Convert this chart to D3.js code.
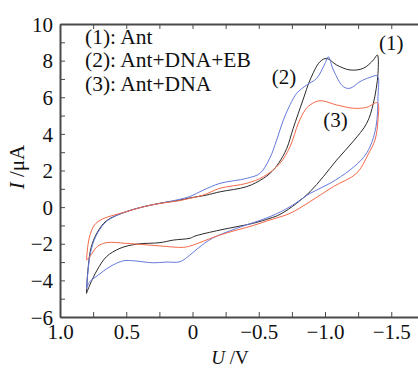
<!DOCTYPE html>
<html>
<head>
<meta charset="utf-8">
<script src="https://cdn.jsdelivr.net/npm/d3@7"></script>
<style>
  body { margin: 0; background: #fff; }
</style>
</head>
<body>
<div id="chart"></div>
<script>
// Cyclic voltammograms, [U (V), I (uA)]
var ant = [
  [0.80, -4.71], [0.79, -3.5], [0.765, -2.2], [0.72, -1.4], [0.65, -0.75], [0.5, -0.25],
  [0.37, 0.02], [0.245, 0.21], [0.1, 0.38], [0.02, 0.5], [-0.1, 0.65], [-0.21, 0.84],
  [-0.41, 1.12], [-0.535, 1.57], [-0.6, 1.95], [-0.65, 2.4], [-0.711, 3.2], [-0.76, 4.3],
  [-0.836, 5.9], [-0.887, 6.94], [-0.962, 7.94], [-1.013, 8.12], [-1.088, 7.76],
  [-1.189, 7.49], [-1.289, 7.58], [-1.365, 8.03], [-1.395, 8.31],
  [-1.40, 7.3], [-1.365, 5.67], [-1.315, 4.58], [-1.214, 3.6], [-1.088, 2.57],
  [-0.987, 1.66], [-0.887, 0.84], [-0.786, 0.21], [-0.66, -0.40], [-0.585, -0.61],
  [-0.459, -0.88], [-0.208, -1.25], [-0.019, -1.58], [0.019, -1.70], [0.145, -1.80],
  [0.245, -1.94], [0.42, -2.02], [0.547, -2.25], [0.65, -2.71], [0.72, -3.44],
  [0.775, -4.25], [0.80, -4.71]
];

var antDnaEb = [
  [0.80, -4.44], [0.79, -3.6], [0.77, -2.5], [0.73, -1.6], [0.66, -0.85], [0.6, -0.55],
  [0.5, -0.25], [0.37, 0.02], [0.245, 0.21], [0.1, 0.42], [0.02, 0.58], [-0.082, 0.93],
  [-0.208, 1.30], [-0.409, 1.57], [-0.51, 1.85], [-0.585, 2.7], [-0.635, 3.66],
  [-0.686, 4.76], [-0.737, 5.6], [-0.787, 6.22], [-0.862, 6.67], [-0.937, 7.03],
  [-1.0, 7.85], [-1.025, 8.21], [-1.063, 7.49], [-1.138, 6.58], [-1.189, 6.49],
  [-1.264, 6.85], [-1.34, 7.09], [-1.395, 7.16],
  [-1.40, 6.03], [-1.385, 4.39], [-1.34, 3.3], [-1.289, 2.7], [-1.189, 2.03],
  [-1.038, 1.30], [-0.887, 0.75], [-0.736, 0.02], [-0.585, -0.52], [-0.333, -1.16],
  [-0.15, -1.7], [-0.044, -2.23], [0.02, -2.62], [0.094, -2.98], [0.2, -3.0],
  [0.296, -3.04], [0.447, -2.93], [0.52, -2.93], [0.623, -3.25], [0.72, -3.76],
  [0.775, -4.07], [0.80, -4.44]
];

var antDna = [
  [0.80, -2.89], [0.78, -1.7], [0.74, -0.98], [0.68, -0.65], [0.6, -0.45], [0.5, -0.25],
  [0.37, 0.02], [0.245, 0.2], [0.1, 0.35], [0.02, 0.48], [-0.082, 0.66], [-0.208, 1.03],
  [-0.409, 1.30], [-0.535, 1.66], [-0.66, 2.39], [-0.736, 3.30], [-0.80, 4.6],
  [-0.85, 5.3], [-0.887, 5.58], [-0.962, 5.81], [-1.088, 5.58], [-1.214, 5.40],
  [-1.315, 5.45], [-1.395, 5.70],
  [-1.40, 4.76], [-1.377, 3.66], [-1.327, 2.9], [-1.239, 1.85], [-1.063, 1.12],
  [-0.887, 0.30], [-0.736, -0.34], [-0.585, -0.70], [-0.459, -1.0], [-0.208, -1.52],
  [-0.05, -1.95], [0.03, -2.15], [0.08, -2.2], [0.245, -2.12], [0.5, -1.98], [0.65, -1.94],
  [0.72, -2.16], [0.775, -2.71], [0.80, -2.89]
];

var seriesNames = ["(1): Ant", "(2): Ant+DNA+EB", "(3): Ant+DNA"];
var curveTags = ["(1)", "(2)", "(3)"];
var seriesColors = ["#2a2a2a", "#6479dc", "#f4694a"];

var xTicks = [1.0, 0.75, 0.5, 0.25, 0, -0.25, -0.5, -0.75, -1.0, -1.25, -1.5];
var xLabels = ["1.0", "", "0.5", "", "0", "", "\u22120.5", "", "\u22121.0", "", "\u22121.5"];
var yTicks = d3.range(-6, 11, 1);

var serif = "'Liberation Serif', 'Times New Roman', Times, serif";

// Set SVG Specs
var svgWidth = 418;
var svgHeight = 368;
var plot = { left: 60, right: 417.75, top: 24, bottom: 317 };

var svg = d3.select("#chart")
  .append("svg")
  .attr("width", svgWidth)
  .attr("height", svgHeight);

var xScale = d3.scaleLinear().domain([1.0, -1.7]).range([plot.left, plot.right]);
var yScale = d3.scaleLinear().domain([-6, 10]).range([plot.bottom, plot.top]);

// Axes, ticks pointing inwards
var bottomAxis = d3.axisBottom(xScale)
  .tickValues(xTicks)
  .tickFormat((d, i) => xLabels[i])
  .tickSizeInner(-5)
  .tickSizeOuter(0);
var topAxis = d3.axisTop(xScale)
  .tickValues(xTicks)
  .tickFormat("")
  .tickSizeInner(-5)
  .tickSizeOuter(0);
var leftAxis = d3.axisLeft(yScale)
  .tickValues(yTicks)
  .tickFormat(d => d % 2 === 0 ? String(d).replace("-", "\u2212") : "")
  .tickSizeInner(-5)
  .tickSizeOuter(0);

function styleAxis(g) {
  g.attr("font-family", null).attr("font-size", null);
  g.select(".domain").attr("stroke", "#4a4a4a").attr("stroke-width", 2);
  g.selectAll(".tick line").attr("stroke", "#4a4a4a").attr("stroke-width", 1);
  g.selectAll("text")
    .style("font-family", serif)
    .style("font-size", "21px")
    .attr("fill", "#111");
}

svg.append("g")
  .attr("transform", `translate(0, ${plot.bottom})`)
  .call(bottomAxis)
  .call(styleAxis)
  .call(g => g.selectAll("text").attr("y", 22).attr("dy", 0));

svg.append("g")
  .attr("transform", `translate(0, ${plot.top})`)
  .call(topAxis)
  .call(styleAxis);

svg.append("g")
  .attr("transform", `translate(${plot.left}, 0)`)
  .call(leftAxis)
  .call(styleAxis)
  .call(g => g.selectAll("text").attr("x", -7).attr("dy", "0.34em"));

// Curves
var line = d3.line()
  .x(d => xScale(d[0]))
  .y(d => yScale(d[1]))
  .curve(d3.curveCatmullRom.alpha(0.5));

[ant, antDnaEb, antDna].forEach(function(data, k) {
  svg.append("path")
    .datum(data)
    .attr("d", line)
    .attr("fill", "none")
    .attr("stroke", seriesColors[k])
    .attr("stroke-width", 1);
});

// Legend text
svg.selectAll(".legend")
  .data(seriesNames)
  .enter()
  .append("text")
  .attr("class", "legend")
  .attr("x", 85)
  .attr("y", (d, i) => 43.5 + i * 23.7)
  .style("font-family", serif)
  .style("font-size", "21.5px")
  .attr("fill", "#111")
  .text(d => d);

// Curve tags
var tagPos = [[-1.5, 8.6], [-0.69, 6.7], [-1.08, 4.4]];
svg.selectAll(".tag")
  .data(curveTags)
  .enter()
  .append("text")
  .attr("class", "tag")
  .attr("x", (d, i) => xScale(tagPos[i][0]))
  .attr("y", (d, i) => yScale(tagPos[i][1]))
  .attr("text-anchor", "middle")
  .style("font-family", serif)
  .style("font-size", "21px")
  .attr("fill", "#111")
  .text(d => d);

// Axis titles
var yTitle = svg.append("text")
  .attr("transform", "translate(24, 167) rotate(-90)")
  .attr("text-anchor", "middle")
  .style("font-family", serif)
  .style("font-size", "21px")
  .attr("fill", "#111");
yTitle.append("tspan").attr("font-style", "italic").text("I");
yTitle.append("tspan").text(" /\u03bcA");

var xTitle = svg.append("text")
  .attr("x", 230)
  .attr("y", 364)
  .attr("text-anchor", "middle")
  .style("font-family", serif)
  .style("font-size", "19px")
  .attr("fill", "#111");
xTitle.append("tspan").attr("font-style", "italic").text("U");
xTitle.append("tspan").text(" /V");
</script>
</body>
</html>
